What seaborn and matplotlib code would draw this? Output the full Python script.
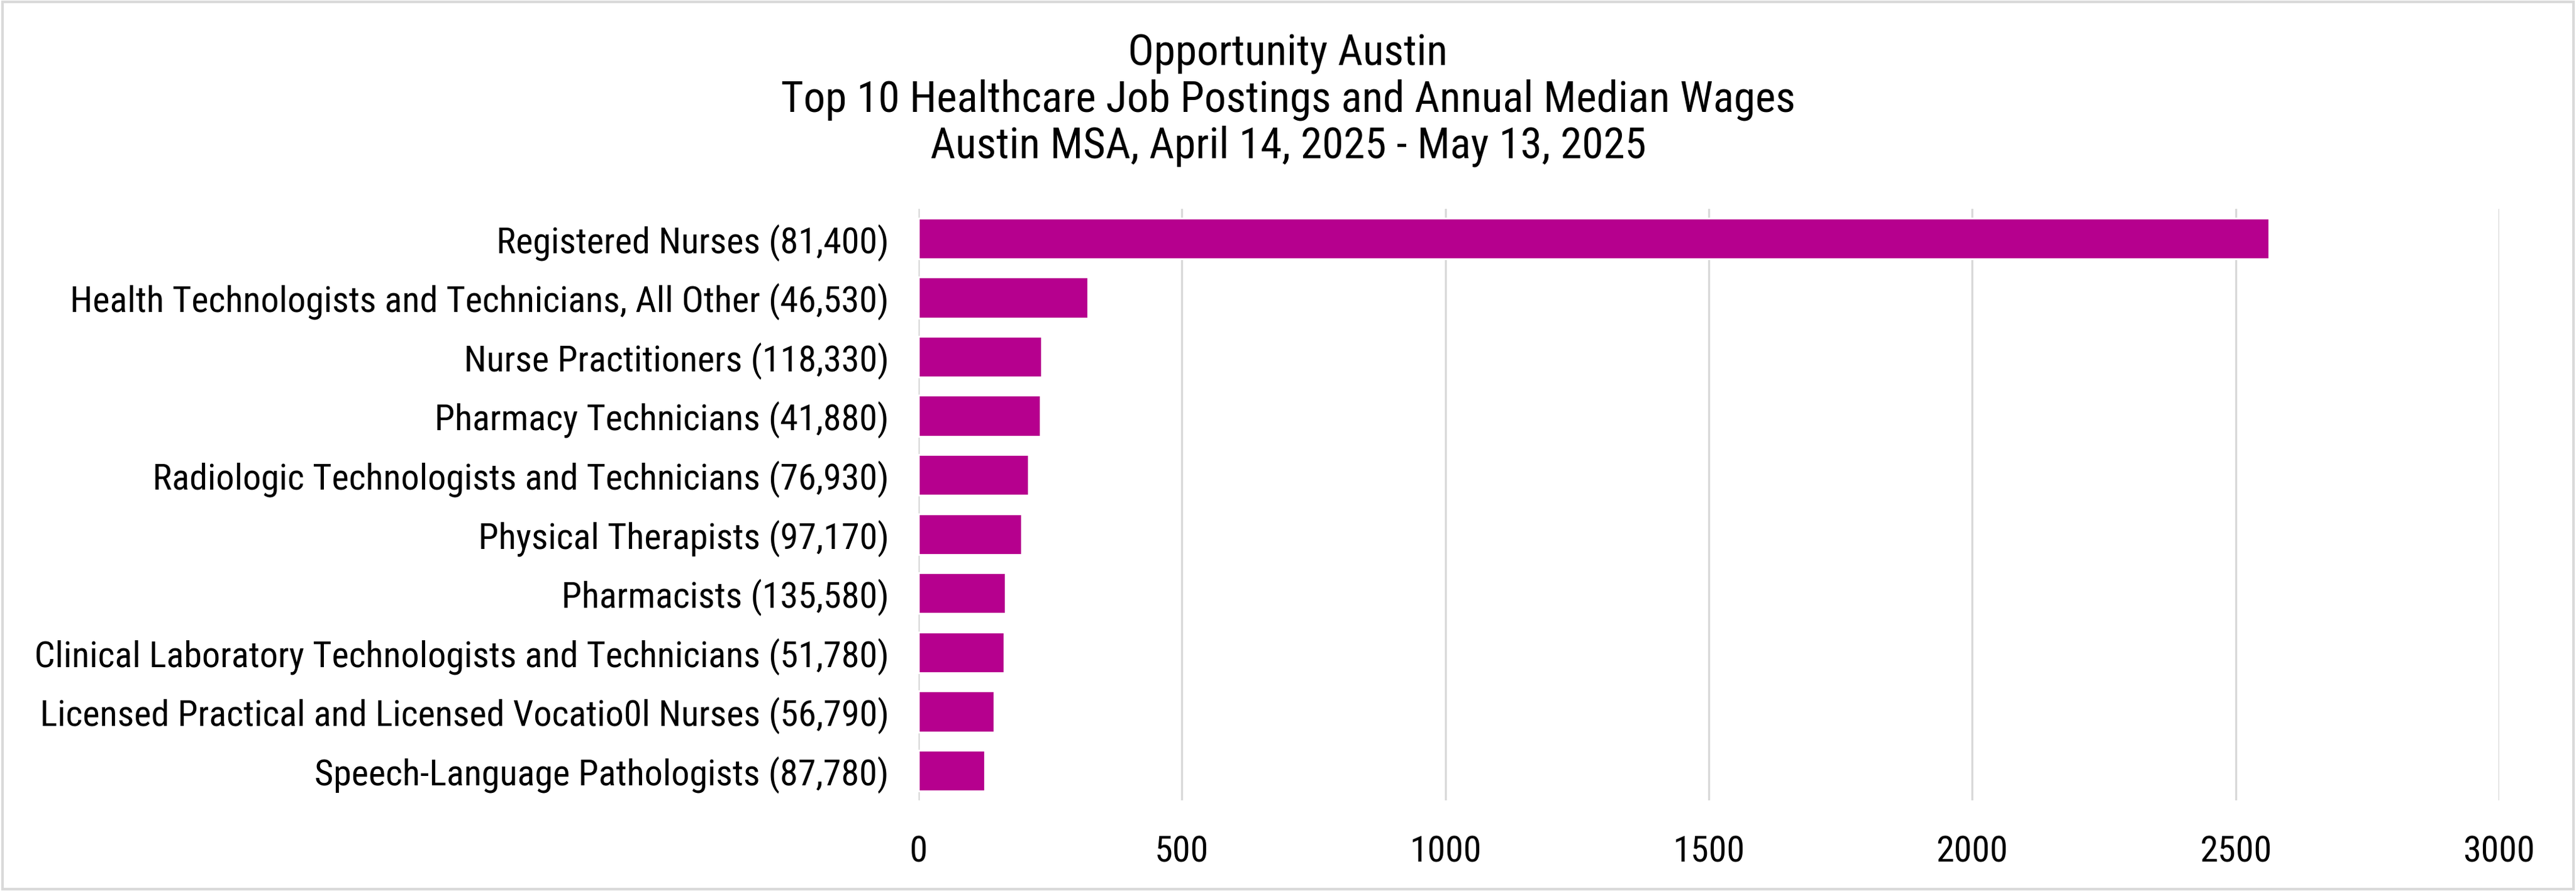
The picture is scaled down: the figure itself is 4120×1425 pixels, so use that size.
import matplotlib
matplotlib.use("Agg")
import matplotlib.pyplot as plt
import pandas as pd
import seaborn as sns

# occupations with annual median wage, top to bottom
occupations = [
    "Registered Nurses (81,400)",
    "Health Technologists and Technicians, All Other (46,530)",
    "Nurse Practitioners (118,330)",
    "Pharmacy Technicians (41,880)",
    "Radiologic Technologists and Technicians (76,930)",
    "Physical Therapists (97,170)",
    "Pharmacists (135,580)",
    "Clinical Laboratory Technologists and Technicians (51,780)",
    "Licensed Practical and Licensed Vocatio0l Nurses (56,790)",
    "Speech-Language Pathologists (87,780)",
]
postings = [2563, 321, 234, 231, 209, 196, 165, 162, 143, 125]
xticks = [0, 500, 1000, 1500, 2000, 2500, 3000]

title = ("Opportunity Austin\n"
         "Top 10 Healthcare Job Postings and Annual Median Wages\n"
         "Austin MSA, April 14, 2025 - May 13, 2025")

sns.set_style("white")
plt.rcParams["font.family"] = ["Roboto Condensed", "Roboto", "DejaVu Sans"]
plt.rcParams["text.color"] = "black"
plt.rcParams["xtick.color"] = "black"
plt.rcParams["ytick.color"] = "black"

df = pd.DataFrame({"occupation": occupations, "postings": postings})

fig = plt.figure(figsize=(20.6, 7.125), dpi=200)
ax = fig.add_axes([0.3566, 0.1018, 0.6135, 0.6638])

sns.barplot(data=df, x="postings", y="occupation", orient="h",
            color="#B6008E", saturation=1, width=0.69, ax=ax, zorder=3)

ax.set_xlim(0, 3000)
ax.set_ylim(9.5, -0.5)
ax.set_xticks(xticks)
ax.set_xticklabels([str(t) for t in xticks])
ax.grid(axis="x", color="#D9D9D9", linewidth=1.2, zorder=0)
ax.set_axisbelow(True)
for s in ax.spines.values():
    s.set_visible(False)
ax.tick_params(axis="y", length=0, pad=17, labelsize=21)
ax.tick_params(axis="x", length=0, pad=20, labelsize=21)
ax.set_xlabel("")
ax.set_ylabel("")

fig.text(0.5, 0.8877, title, ha="center", va="center", fontsize=25, linespacing=1.15)

# chart area border
fig.patches.append(plt.Rectangle((0.001, 0.002), 0.998, 0.996, transform=fig.transFigure,
                                 fill=False, edgecolor="#D9D9D9", linewidth=1.5))

fig.savefig("out.png", dpi=200, facecolor="white")
